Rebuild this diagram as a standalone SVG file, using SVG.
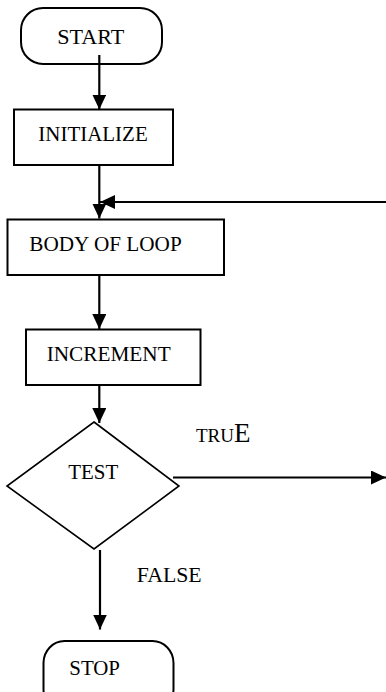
<svg xmlns="http://www.w3.org/2000/svg" width="386" height="692" viewBox="0 0 386 692">
<defs>
<marker id="ah" markerUnits="userSpaceOnUse" markerWidth="16" markerHeight="15" refX="15" refY="7" orient="auto">
<path d="M0,0 L15,7 L0,14 Z" fill="#000"/>
</marker>
<style>
.s{fill:#fff;stroke:#000;stroke-width:2}
.d{fill:#fff;stroke:#000;stroke-width:1.6}
.t{font-family:"Liberation Serif","Times New Roman",serif;font-size:21px;fill:#000}
.c{fill:none;stroke:#000;stroke-width:2.2;marker-end:url(#ah)}
</style>
</defs>
<rect width="386" height="692" fill="#fff"/>
<g id="start">
<rect class="s" x="21" y="8" width="141" height="56" rx="22" ry="22"/>
<text class="t" x="57.3" y="44.3" textLength="67" lengthAdjust="spacingAndGlyphs">START</text>
</g>
<g id="initialize">
<rect class="s" x="14" y="109.5" width="159" height="55.5"/>
<text class="t" x="38.3" y="141" textLength="109.4" lengthAdjust="spacingAndGlyphs">INITIALIZE</text>
</g>
<g id="body">
<rect class="s" x="7.5" y="219.5" width="216.5" height="55.5"/>
<text class="t" x="29.3" y="251" textLength="152.4" lengthAdjust="spacingAndGlyphs">BODY OF LOOP</text>
</g>
<g id="increment">
<rect class="s" x="26" y="329.5" width="174.5" height="55.5"/>
<text class="t" x="46.7" y="361" textLength="124" lengthAdjust="spacingAndGlyphs">INCREMENT</text>
</g>
<g id="test">
<polygon class="d" points="94,422 179,486 94,549 7,486"/>
<text class="t" x="68.3" y="479.3" textLength="50" lengthAdjust="spacingAndGlyphs">TEST</text>
</g>
<g id="stop">
<rect class="s" x="43.5" y="641" width="130" height="70" rx="21" ry="22"/>
<text class="t" x="69.3" y="675" textLength="50.7" lengthAdjust="spacingAndGlyphs">STOP</text>
</g>
<g id="connectors">
<path class="c" d="M99.3,55 V109.5"/>
<path class="c" d="M99.3,165 V218.5"/>
<path class="c" d="M386,202 H100"/>
<path class="c" d="M99.3,275 V329"/>
<path class="c" d="M99.3,385 V423"/>
<path class="c" d="M173,477.5 H386"/>
<path class="c" d="M100,550 V629.5"/>
</g>
<g id="labels">
<text class="t" x="196" y="442.3" style="font-size:19px">TRU<tspan style="font-size:27px">E</tspan></text>
<text class="t" x="136.7" y="582.3" textLength="65" lengthAdjust="spacingAndGlyphs">FALSE</text>
</g>
</svg>
